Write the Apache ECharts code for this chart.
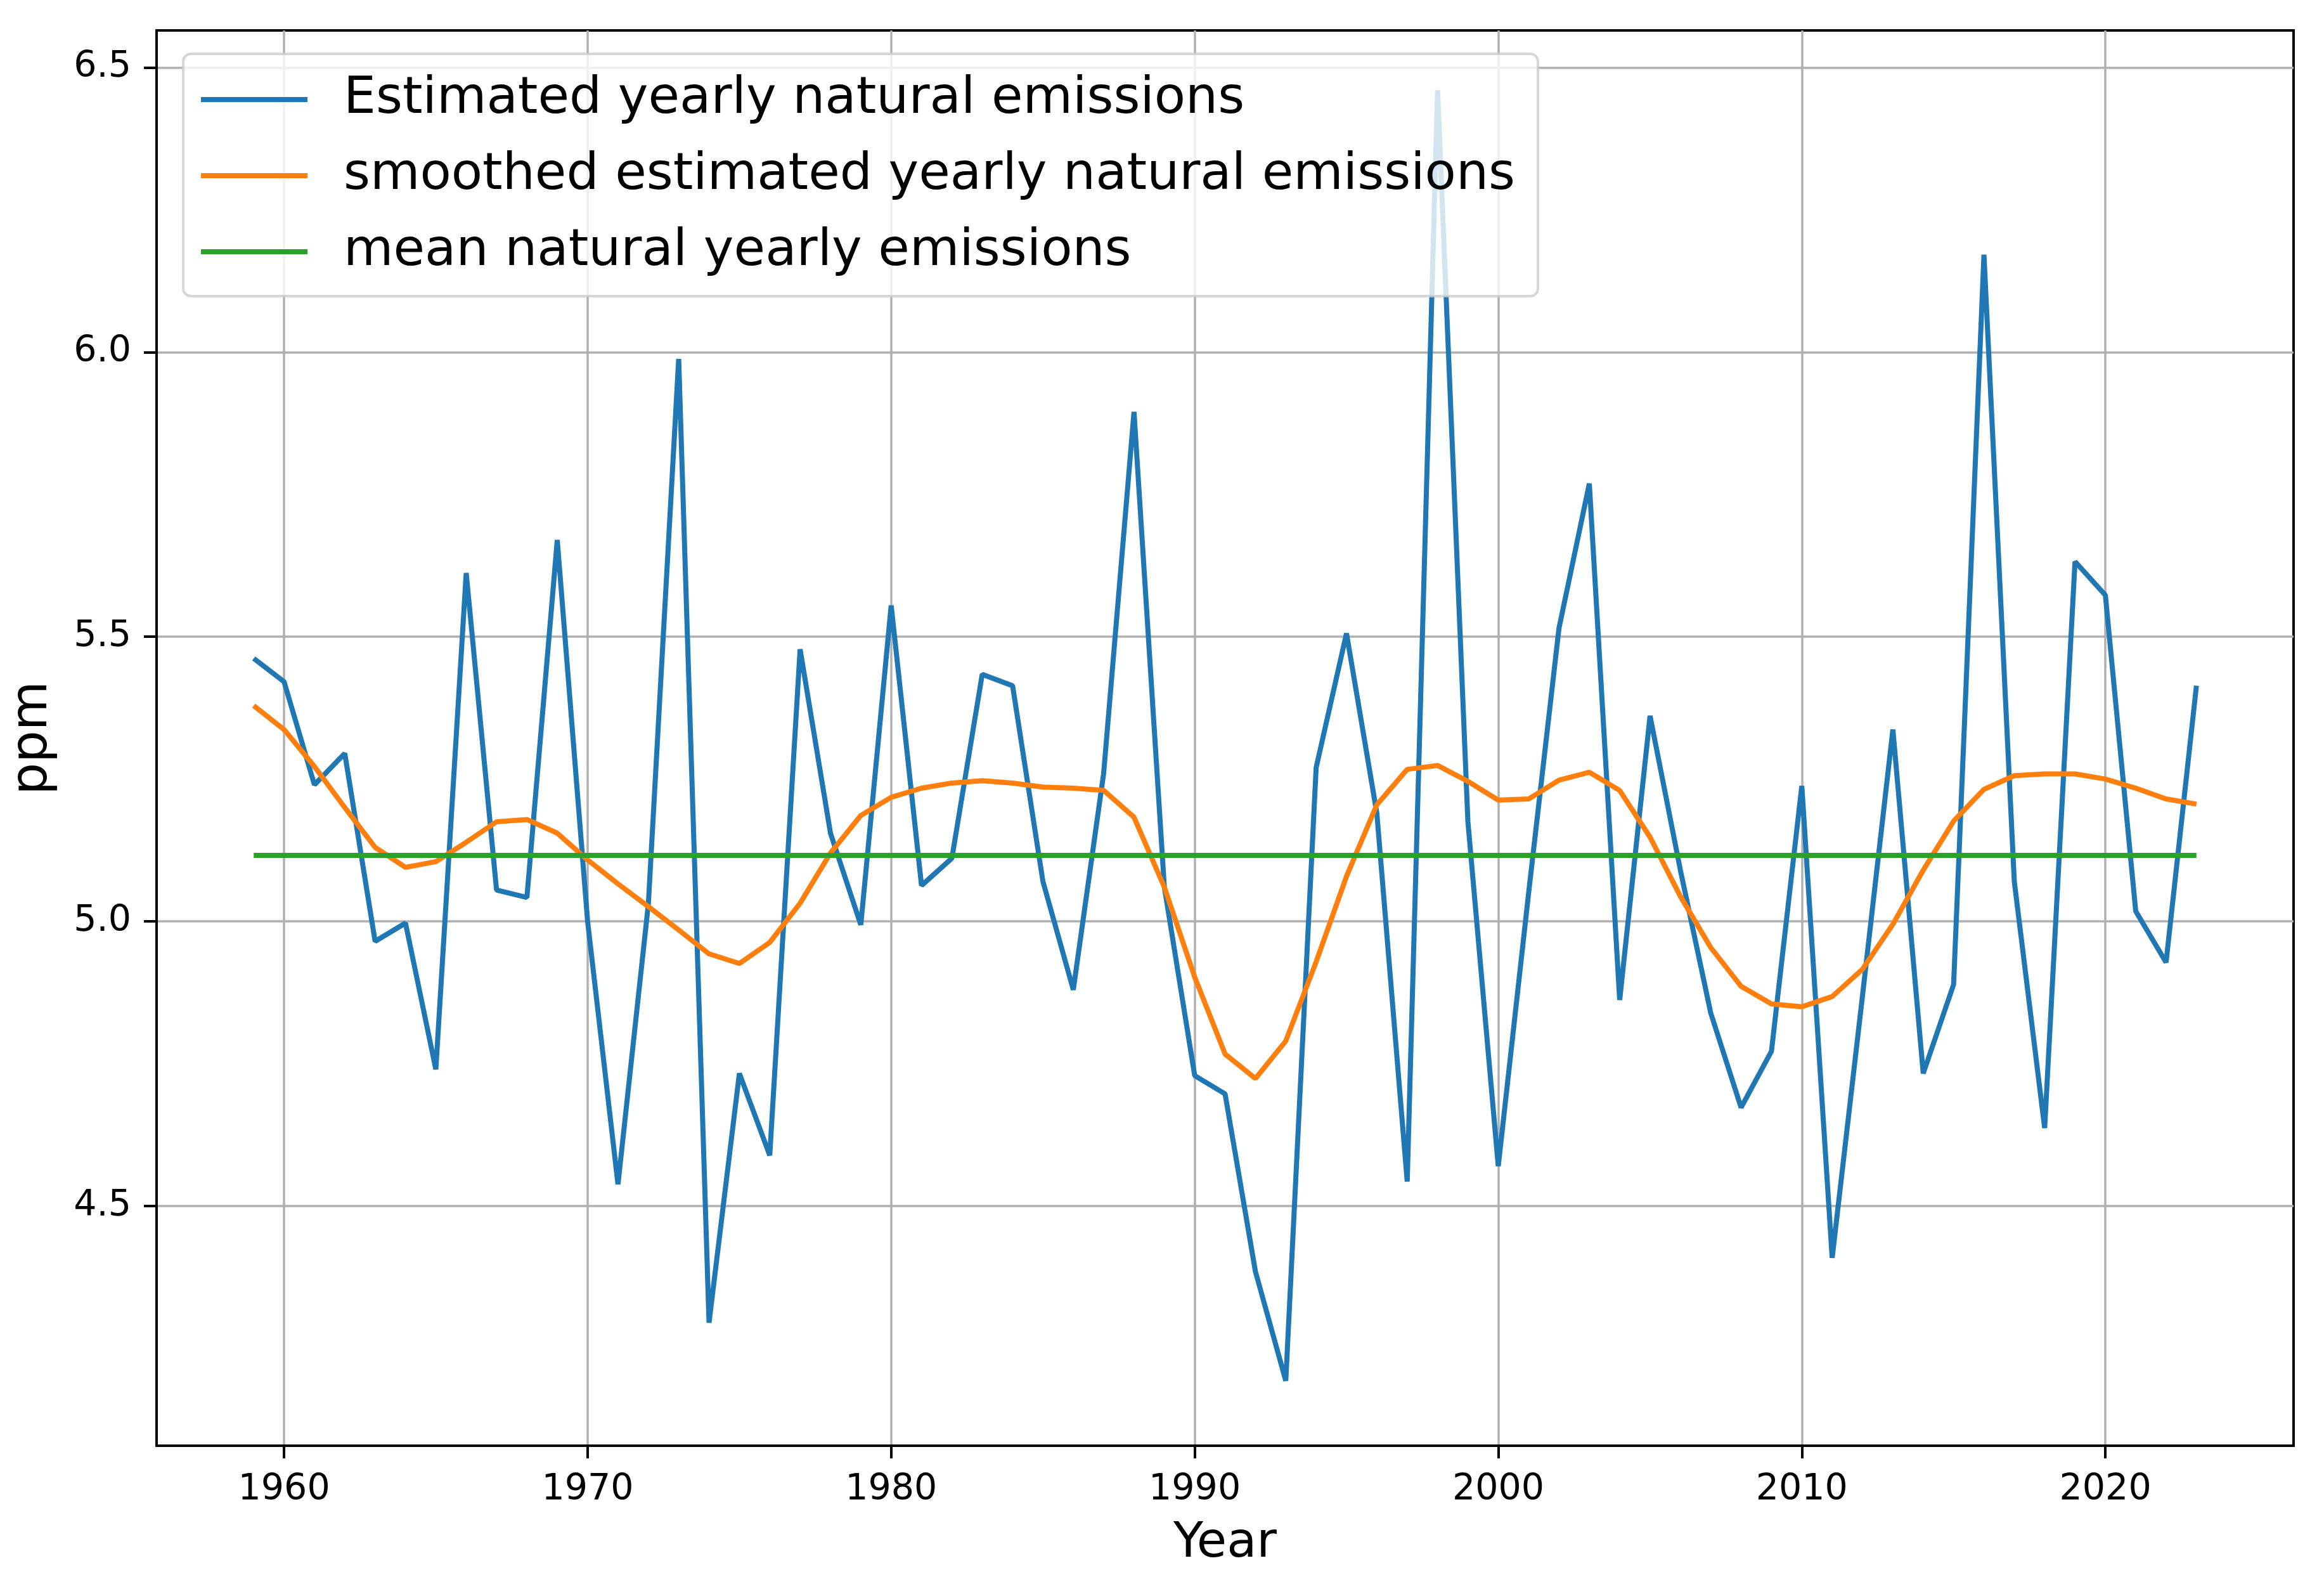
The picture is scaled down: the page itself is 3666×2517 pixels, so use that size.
<!DOCTYPE html>
<html>
<head>
<meta charset="utf-8">
<script src="https://cdn.jsdelivr.net/npm/echarts@6/dist/echarts.min.js"></script>
<style>
html,body{margin:0;padding:0;background:#ffffff;}
#chart{width:3666px;height:2517px;}
</style>
</head>
<body>
<div id="chart"></div>
<script>
const years = [1959,1960,1961,1962,1963,1964,1965,1966,1967,1968,1969,1970,1971,1972,1973,1974,1975,1976,1977,1978,1979,1980,1981,1982,1983,1984,1985,1986,1987,1988,1989,1990,1991,1992,1993,1994,1995,1996,1997,1998,1999,2000,2001,2002,2003,2004,2005,2006,2007,2008,2009,2010,2011,2012,2013,2014,2015,2016,2017,2018,2019,2020,2021,2022,2023];

const estimatedEmissions = [5.462,5.421,5.240,5.295,4.965,4.997,4.740,5.612,5.055,5.042,5.670,5.000,4.538,5.030,5.988,4.295,4.733,4.589,5.478,5.155,4.994,5.555,5.063,5.111,5.434,5.414,5.070,4.880,5.260,5.895,5.060,4.729,4.697,4.385,4.193,5.270,5.506,5.190,4.543,6.460,5.175,4.570,5.050,5.515,5.769,4.862,5.361,5.090,4.839,4.673,4.772,5.238,4.409,4.870,5.337,4.733,4.889,6.171,5.070,4.637,5.632,5.573,5.018,4.928,5.414];

const smoothedEmissions = [5.379,5.337,5.272,5.200,5.130,5.095,5.105,5.139,5.175,5.179,5.155,5.108,5.066,5.026,4.985,4.943,4.926,4.963,5.032,5.120,5.186,5.218,5.234,5.243,5.247,5.243,5.236,5.234,5.230,5.183,5.060,4.902,4.767,4.724,4.790,4.929,5.079,5.205,5.267,5.274,5.246,5.213,5.215,5.248,5.262,5.230,5.148,5.044,4.954,4.886,4.855,4.850,4.868,4.916,4.995,5.090,5.176,5.232,5.256,5.259,5.259,5.250,5.234,5.215,5.206];

const meanEmission = 5.116;

const xTickValues = [1960,1970,1980,1990,2000,2010,2020];
const yTickValues = [4.5,5.0,5.5,6.0,6.5];

const seriesNames = [
  'Estimated yearly natural emissions',
  'smoothed estimated yearly natural emissions',
  'mean natural yearly emissions'
];

const FONT = 'DejaVu Sans';

const estimatedData = years.map((y, i) => [y, estimatedEmissions[i]]);
const smoothedData = years.map((y, i) => [y, smoothedEmissions[i]]);
const meanData = [[years[0], meanEmission], [years[years.length - 1], meanEmission]];

const chart = echarts.init(document.getElementById('chart'), null, {
  renderer: 'canvas', width: 3666, height: 2517, devicePixelRatio: 1
});

const option = {
  animation: false,
  backgroundColor: '#ffffff',
  textStyle: { fontFamily: FONT },
  grid: {
    left: 247, right: 48, top: 48, bottom: 237,
    show: true, borderColor: '#000000', borderWidth: 4,
    backgroundColor: 'transparent', containLabel: false, outerBoundsMode: 'none'
  },
  xAxis: {
    type: 'value', min: 1955.8, max: 2026.2,
    name: 'Year', nameLocation: 'middle', nameGap: 116,
    nameTextStyle: { fontSize: 77, color: '#000000', fontFamily: FONT },
    axisLine: { show: true, onZero: false, lineStyle: { color: '#000000', width: 4 } },
    axisTick: { show: true, inside: false, length: 20, lineStyle: { color: '#000000', width: 4 }, customValues: xTickValues },
    axisLabel: { show: true, customValues: xTickValues, margin: 42, fontSize: 57, color: '#000000', fontFamily: FONT, formatter: v => String(Math.round(v)) },
    splitLine: { show: true, lineStyle: { color: '#b0b0b0', width: 3.5 } },
    minorTick: { show: false }, minorSplitLine: { show: false }
  },
  yAxis: {
    type: 'value', min: 4.079, max: 6.565,
    name: 'ppm', nameLocation: 'middle', nameGap: 155, nameRotate: 90,
    nameTextStyle: { fontSize: 80, color: '#000000', fontFamily: FONT },
    axisLine: { show: true, onZero: false, lineStyle: { color: '#000000', width: 4 } },
    axisTick: { show: true, inside: false, length: 20, lineStyle: { color: '#000000', width: 4 }, customValues: yTickValues },
    axisLabel: { show: true, customValues: yTickValues, margin: 40, fontSize: 57, color: '#000000', fontFamily: FONT, formatter: v => Number(v).toFixed(1) },
    splitLine: { show: true, lineStyle: { color: '#b0b0b0', width: 3.5 } },
    minorTick: { show: false }, minorSplitLine: { show: false }
  },
  legend: {
    show: true, orient: 'vertical', left: 289, top: 85,
    data: seriesNames, icon: 'rect', itemWidth: 168, itemHeight: 8, itemGap: 30,
    padding: [27, 36, 25, 28],
    backgroundColor: 'rgba(255,255,255,0.8)',
    borderColor: 'rgba(204,204,204,0.8)', borderWidth: 4, borderRadius: 12,
    selectedMode: false,
    textStyle: { fontSize: 80.6, lineHeight: 90, color: '#000000', fontFamily: FONT, padding: [0, 0, 0, 52] }
  },
  series: [
    {
      name: seriesNames[0], type: 'line', data: estimatedData,
      symbol: 'none', showSymbol: false, silent: true,
      lineStyle: { color: '#1f77b4', width: 8 }, itemStyle: { color: '#1f77b4' }, z: 2
    },
    {
      name: seriesNames[1], type: 'line', data: smoothedData,
      symbol: 'none', showSymbol: false, silent: true,
      lineStyle: { color: '#ff7f0e', width: 8 }, itemStyle: { color: '#ff7f0e' }, z: 3
    },
    {
      name: seriesNames[2], type: 'line', data: meanData,
      symbol: 'none', showSymbol: false, silent: true,
      lineStyle: { color: '#2ca02c', width: 8 }, itemStyle: { color: '#2ca02c' }, z: 3
    }
  ]
};

chart.setOption(option);
</script>
</body>
</html>
